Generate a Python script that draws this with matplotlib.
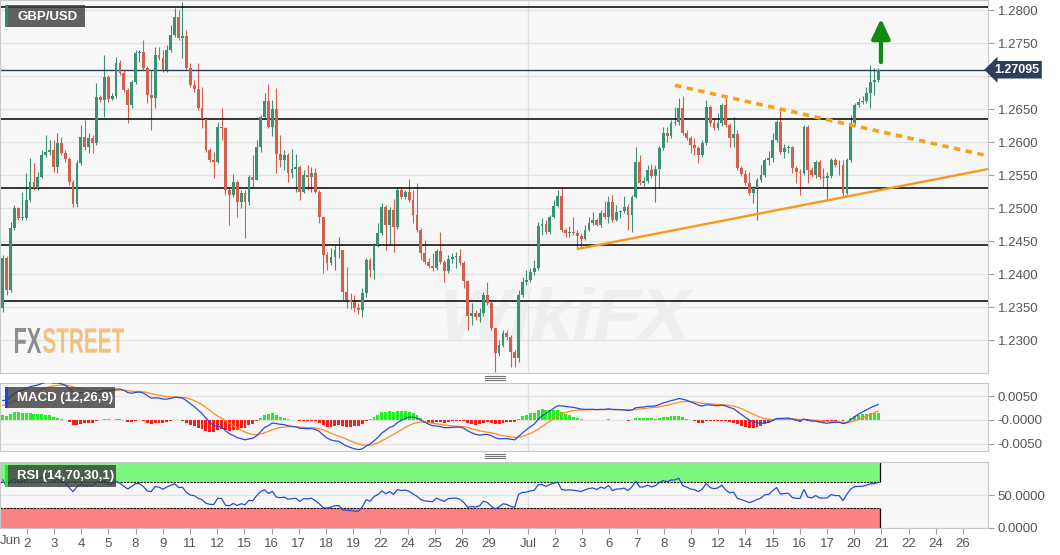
import matplotlib
matplotlib.use("Agg")
import matplotlib.pyplot as plt
import numpy as np
import pandas as pd
from matplotlib.patches import Rectangle, PathPatch
from matplotlib.lines import Line2D
from matplotlib.textpath import TextPath
from matplotlib.font_manager import FontProperties
from matplotlib.transforms import Affine2D, IdentityTransform

plt.rcParams['font.family'] = ['Liberation Sans', 'DejaVu Sans']

# GBP/USD 4h candles, Jun 1 - Jul 21
first_open = 1.2348
closes = [
    1.2424, 1.2376, 1.2470, 1.2500, 1.2485, 1.2485, 1.2512, 1.2539, 1.2530, 1.2547,
    1.2580, 1.2585, 1.2588, 1.2562, 1.2598, 1.2583, 1.2574, 1.2539, 1.2506, 1.2568,
    1.2607, 1.2592, 1.2606, 1.2598, 1.2668, 1.2664, 1.2698, 1.2665, 1.2670, 1.2720,
    1.2704, 1.2679, 1.2656, 1.2691, 1.2735, 1.2736, 1.2712, 1.2671, 1.2667, 1.2732,
    1.2727, 1.2709, 1.2739, 1.2762, 1.2789, 1.2757, 1.2760, 1.2712, 1.2686, 1.2680,
    1.2651, 1.2635, 1.2588, 1.2573, 1.2570, 1.2623, 1.2621, 1.2527, 1.2520, 1.2539,
    1.2509, 1.2523, 1.2509, 1.2547, 1.2542, 1.2592, 1.2638, 1.2662, 1.2623, 1.2650,
    1.2582, 1.2573, 1.2580, 1.2553, 1.2559, 1.2562, 1.2524, 1.2550, 1.2547, 1.2553,
    1.2524, 1.2486, 1.2429, 1.2417, 1.2426, 1.2436, 1.2436, 1.2373, 1.2361, 1.2358,
    1.2348, 1.2345, 1.2371, 1.2421, 1.2406, 1.2444, 1.2462, 1.2501, 1.2474, 1.2497,
    1.2471, 1.2527, 1.2517, 1.2524, 1.2512, 1.2489, 1.2467, 1.2432, 1.2418, 1.2412,
    1.2409, 1.2435, 1.2418, 1.2404, 1.2423, 1.2426, 1.2427, 1.2417, 1.2389, 1.2336,
    1.2341, 1.2335, 1.2341, 1.2368, 1.2356, 1.2318, 1.2280, 1.2292, 1.2311, 1.2305,
    1.2282, 1.2273, 1.2368, 1.2388, 1.2391, 1.2403, 1.2409, 1.2473, 1.2476, 1.2464,
    1.2486, 1.2503, 1.2518, 1.2467, 1.2462, 1.2464, 1.2462, 1.2458, 1.2453, 1.2467,
    1.2477, 1.2482, 1.2474, 1.2492, 1.2486, 1.2509, 1.2482, 1.2494, 1.2495, 1.2501,
    1.2489, 1.2517, 1.2570, 1.2538, 1.2541, 1.2557, 1.2548, 1.2559, 1.2591, 1.2614,
    1.2609, 1.2629, 1.2630, 1.2651, 1.2614, 1.2606, 1.2595, 1.2591, 1.2580, 1.2598,
    1.2653, 1.2629, 1.2621, 1.2629, 1.2656, 1.2626, 1.2606, 1.2612, 1.2561, 1.2551,
    1.2538, 1.2523, 1.2530, 1.2542, 1.2550, 1.2573, 1.2576, 1.2603, 1.2630, 1.2585,
    1.2591, 1.2592, 1.2561, 1.2554, 1.2553, 1.2623, 1.2557, 1.2550, 1.2570, 1.2547,
    1.2545, 1.2548, 1.2573, 1.2565, 1.2565, 1.2523, 1.2573, 1.2629, 1.2656, 1.2661,
    1.2662, 1.2674, 1.2691, 1.2694, 1.27095,
]
highs = [
    1.2429, 1.2427, 1.2479, 1.2504, 1.2501, 1.2524, 1.2553, 1.2576, 1.2568, 1.2554,
    1.2588, 1.2610, 1.2603, 1.2603, 1.2614, 1.2607, 1.2588, 1.2577, 1.2542, 1.2573,
    1.2626, 1.2633, 1.2614, 1.2610, 1.2689, 1.2671, 1.2732, 1.2701, 1.2674, 1.2729,
    1.2724, 1.2709, 1.2682, 1.2694, 1.2739, 1.2739, 1.2754, 1.2715, 1.2709, 1.2744,
    1.2744, 1.2739, 1.2747, 1.2777, 1.2803, 1.2800, 1.2812, 1.2770, 1.2720, 1.2694,
    1.2720, 1.2683, 1.2638, 1.2591, 1.2585, 1.2630, 1.2651, 1.2623, 1.2530, 1.2551,
    1.2542, 1.2527, 1.2527, 1.2550, 1.2580, 1.2603, 1.2641, 1.2674, 1.2688, 1.2664,
    1.2682, 1.2610, 1.2588, 1.2583, 1.2589, 1.2582, 1.2565, 1.2557, 1.2565, 1.2562,
    1.2561, 1.2527, 1.2488, 1.2433, 1.2439, 1.2444, 1.2456, 1.2433, 1.2411, 1.2371,
    1.2368, 1.2356, 1.2379, 1.2424, 1.2424, 1.2447, 1.2477, 1.2507, 1.2504, 1.2501,
    1.2514, 1.2532, 1.2532, 1.2527, 1.2544, 1.2527, 1.2538, 1.2470, 1.2451, 1.2424,
    1.2432, 1.2438, 1.2464, 1.2421, 1.2429, 1.2432, 1.2433, 1.2438, 1.2420, 1.2391,
    1.2356, 1.2345, 1.2348, 1.2373, 1.2388, 1.2361, 1.2318, 1.2300, 1.2315, 1.2315,
    1.2308, 1.2285, 1.2376, 1.2395, 1.2406, 1.2409, 1.2421, 1.2479, 1.2485, 1.2482,
    1.2489, 1.2512, 1.2527, 1.2530, 1.2470, 1.2473, 1.2486, 1.2467, 1.2462, 1.2474,
    1.2486, 1.2494, 1.2485, 1.2497, 1.2510, 1.2518, 1.2520, 1.2504, 1.2497, 1.2518,
    1.2506, 1.2520, 1.2592, 1.2580, 1.2547, 1.2565, 1.2567, 1.2565, 1.2594, 1.2623,
    1.2623, 1.2633, 1.2653, 1.2667, 1.2670, 1.2618, 1.2609, 1.2606, 1.2594, 1.2603,
    1.2664, 1.2656, 1.2636, 1.2644, 1.2659, 1.2671, 1.2629, 1.2638, 1.2618, 1.2564,
    1.2557, 1.2554, 1.2533, 1.2545, 1.2565, 1.2576, 1.2586, 1.2614, 1.2633, 1.2651,
    1.2597, 1.2595, 1.2594, 1.2564, 1.2559, 1.2626, 1.2626, 1.2562, 1.2573, 1.2573,
    1.2561, 1.2554, 1.2576, 1.2576, 1.2573, 1.2573, 1.2576, 1.2641, 1.2659, 1.2667,
    1.2670, 1.2683, 1.2717, 1.2712, 1.2712,
]
lows = [
    1.2342, 1.2368, 1.2373, 1.2467, 1.2482, 1.2482, 1.2482, 1.2509, 1.2527, 1.2527,
    1.2545, 1.2577, 1.2580, 1.2554, 1.2553, 1.2580, 1.2570, 1.2535, 1.2501, 1.2501,
    1.2565, 1.2588, 1.2583, 1.2583, 1.2595, 1.2661, 1.2638, 1.2661, 1.2664, 1.2667,
    1.2701, 1.2676, 1.2629, 1.2651, 1.2688, 1.2721, 1.2709, 1.2659, 1.2618, 1.2651,
    1.2724, 1.2706, 1.2706, 1.2736, 1.2759, 1.2754, 1.2727, 1.2709, 1.2683, 1.2676,
    1.2648, 1.2621, 1.2585, 1.2570, 1.2545, 1.2568, 1.2603, 1.2520, 1.2474, 1.2517,
    1.2486, 1.2500, 1.2455, 1.2504, 1.2532, 1.2542, 1.2585, 1.2636, 1.2621, 1.2609,
    1.2553, 1.2562, 1.2557, 1.2539, 1.2545, 1.2524, 1.2512, 1.2523, 1.2527, 1.2524,
    1.2523, 1.2477, 1.2401, 1.2406, 1.2414, 1.2406, 1.2424, 1.2361, 1.2348, 1.2347,
    1.2342, 1.2339, 1.2335, 1.2365, 1.2395, 1.2392, 1.2441, 1.2459, 1.2436, 1.2444,
    1.2433, 1.2468, 1.2514, 1.2514, 1.2509, 1.2477, 1.2464, 1.2421, 1.2415, 1.2409,
    1.2404, 1.2406, 1.2415, 1.2388, 1.2401, 1.2417, 1.2409, 1.2414, 1.2379, 1.2315,
    1.2323, 1.2330, 1.2327, 1.2336, 1.2353, 1.2315, 1.2251, 1.2276, 1.2289, 1.2300,
    1.2259, 1.2259, 1.2267, 1.2365, 1.2383, 1.2388, 1.2398, 1.2406, 1.2459, 1.2461,
    1.2461, 1.2485, 1.2501, 1.2464, 1.2456, 1.2456, 1.2459, 1.2439, 1.2441, 1.2451,
    1.2465, 1.2474, 1.2473, 1.2471, 1.2483, 1.2477, 1.2479, 1.2480, 1.2485, 1.2492,
    1.2467, 1.2464, 1.2515, 1.2535, 1.2533, 1.2538, 1.2545, 1.2509, 1.2530, 1.2588,
    1.2600, 1.2606, 1.2626, 1.2626, 1.2610, 1.2603, 1.2583, 1.2580, 1.2568, 1.2577,
    1.2595, 1.2624, 1.2618, 1.2618, 1.2624, 1.2623, 1.2592, 1.2592, 1.2557, 1.2548,
    1.2535, 1.2520, 1.2507, 1.2482, 1.2539, 1.2547, 1.2565, 1.2570, 1.2600, 1.2582,
    1.2576, 1.2583, 1.2553, 1.2538, 1.2520, 1.2550, 1.2538, 1.2547, 1.2545, 1.2544,
    1.2532, 1.2512, 1.2545, 1.2562, 1.2550, 1.2517, 1.2520, 1.2570, 1.2626, 1.2653,
    1.2658, 1.2659, 1.2651, 1.2671, 1.2691,
]

levels = [1.2805, 1.2635, 1.2530, 1.2444, 1.2359]
last_price = 1.27095

# trend lines as (candle index, price)
falling_x = [172.0, 252.1]
falling_y = [1.2686, 1.2579]
rising_x = [147.2, 252.1]
rising_y = [1.2438, 1.2559]
arrow_x = 224.7
arrow_y = [1.2721, 1.2787]

price_ticks = [1.2300, 1.2350, 1.2400, 1.2450, 1.2500, 1.2550, 1.2600, 1.2650, 1.2700, 1.2750, 1.2800]
june_days = ['2', '3', '4', '5', '8', '9', '11', '12', '15', '16', '17', '18', '19', '22', '24', '25', '26', '29']
july_days = ['2', '3', '6', '7', '8', '9', '12', '14', '15', '16', '17', '20', '21', '22', '24', '26']

macd_start = 0.0035
signal_start = 0.0028
rsi_gain_start = 0.0013
rsi_loss_start = 0.0007

opens = [first_open] + closes[:-1]
df = pd.DataFrame({'open': opens, 'high': highs, 'low': lows, 'close': closes})
df['high'] = df[['open', 'high', 'close']].max(axis=1)
df['low'] = df[['open', 'low', 'close']].min(axis=1)
n = len(df)
idx = np.arange(n)


def ema(values, span, seed):
    a = 2.0 / (span + 1)
    out = []
    prev = seed
    for v in values:
        prev = prev + a * (v - prev)
        out.append(prev)
    return np.array(out)


ema_fast = ema(df['close'], 12, first_open - 0.0028)
ema_slow = ema(df['close'], 26, first_open - 0.0028 - macd_start)
macd = ema_fast - ema_slow
signal = ema(macd, 9, signal_start)
hist = macd - signal

rsi = []
ag, al = rsi_gain_start, rsi_loss_start
prev = first_open
for c in df['close']:
    d = c - prev
    prev = c
    ag = (ag * 13 + max(d, 0)) / 14
    al = (al * 13 + max(-d, 0)) / 14
    rsi.append(100 - 100 / (1 + ag / al))
rsi = np.array(rsi)

W, H = 1060, 555
fig = plt.figure(figsize=(W / 100, H / 100), dpi=100)
fig.patch.set_facecolor('white')

ax = fig.add_axes([0, 1 - 373 / H, 988 / W, 373 / H])
ax_m = fig.add_axes([0, 1 - 451 / H, 988 / W, 68 / H])
ax_r = fig.add_axes([0, 1 - 528 / H, 988 / W, 66 / H])

xmin, xmax = -0.69, 252.1
jul_x = 134.5
panel_bg = '#f7f7f7'
for a in (ax, ax_m, ax_r):
    a.set_facecolor(panel_bg)
    a.set_xlim(xmin, xmax)
    for s in a.spines.values():
        s.set_color('#c8c8c8')
    a.yaxis.tick_right()
    a.tick_params(axis='y', length=4, color='#a0a0a0', labelcolor='#555555', labelsize=9.5, pad=3)
    a.yaxis.grid(True, color='#e3e3e3', lw=1)
    a.set_axisbelow(True)
    a.axvline(jul_x, color='#e2e2e2', lw=1, zorder=0.6)
ax.tick_params(axis='x', bottom=False, labelbottom=False)
ax_m.tick_params(axis='x', bottom=False, labelbottom=False)

# --- main price panel
green, red = '#3a9173', '#d2604c'
up = df['close'] >= df['open']
cols = np.where(up, green, red)
body_lo = np.minimum(df['open'], df['close'])
body_h = np.maximum((df['close'] - df['open']).abs(), 0.00008)
ax.vlines(idx, df['low'], df['high'], colors=cols, lw=0.8, zorder=2)
ax.bar(idx, body_h, bottom=body_lo, width=0.72, color=cols, edgecolor='none', zorder=3)

for lv in levels:
    ax.axhline(lv, color='black', lw=1.1, zorder=2.5)
ax.axhline(last_price, color='#2c3e5c', lw=1, zorder=2.5)

ax.plot(falling_x, falling_y, color='#f5a21b', lw=2.6, ls=(0, (1.8, 1.5)), zorder=4, solid_capstyle='butt')
ax.plot(rising_x, rising_y, color='#f59a1e', lw=1.7, zorder=4)
ax.annotate('', xy=(arrow_x, arrow_y[1]), xytext=(arrow_x, arrow_y[0]),
            arrowprops=dict(arrowstyle='-|>,head_width=0.28,head_length=0.6', color='#108a10',
                            lw=3, shrinkA=0, shrinkB=0, mutation_scale=20), zorder=5)

ax.set_ylim(1.2250, 1.28152)
ax.set_yticks(price_ticks)
# the 1.2700 label sits under the last-price tag
ax.set_yticklabels(['' if abs(p - 1.27) < 1e-9 else '%.4f' % p for p in price_ticks])
ax.text(1.006, last_price, '1.27095', transform=ax.get_yaxis_transform(), ha='left', va='center',
        color='white', fontsize=9, fontweight='bold', clip_on=False, zorder=10,
        bbox=dict(boxstyle='larrow,pad=0.22', fc='#2c3e5c', ec='none'))


def logo(axis, text, x0, y0, w, h, color, slant=0.0, z=0.7):
    tp = TextPath((0, 0), text, size=50,
                  prop=FontProperties(family=['Liberation Sans Narrow', 'Liberation Sans'], weight='bold'))
    bb = tp.get_extents()
    tr = (Affine2D().translate(-bb.x0, -bb.y0).scale(w / bb.width, h / bb.height)
          .skew_deg(slant, 0).translate(x0, H - y0 - h))
    axis.add_patch(PathPatch(tr.transform_path(tp), transform=IdentityTransform(),
                             fc=color, ec='none', zorder=z))


logo(ax, 'WikiFX', 435, 287, 250, 52, '#eeeeee', slant=12)
logo(ax, 'FX', 15, 328, 26, 25, '#8e8e8e', z=6)
logo(ax, 'STREET', 43, 328, 81, 25, '#f1c27d', z=6)
ax.set_xlim(xmin, xmax)
ax.set_ylim(1.2250, 1.28152)

# --- MACD panel
hcols = np.where(hist >= 0, '#22ee22', '#ff1a1a')
ax_m.bar(idx, hist, width=0.75, color=hcols, edgecolor='none', zorder=2)
ax_m.plot(idx, signal, color='#ff8a1e', lw=0.9, zorder=3)
ax_m.plot(idx, macd, color='#2a4bd7', lw=0.9, zorder=3)
ax_m.set_ylim(-0.00646, 0.00771)
ax_m.set_yticks([0.005, 0.0, -0.005])
ax_m.set_yticklabels(['0.0050', '-0.0000', '-0.0050'])

# --- RSI panel
x_end = n - 1 + 0.4
ax_r.fill_between([xmin, x_end], 70, 100, color='#7ef57e', lw=0, zorder=1)
ax_r.fill_between([xmin, x_end], 0, 30, color='#f98282', lw=0, zorder=1)
ax_r.hlines([70, 30], xmin, x_end, colors='black', lw=0.8, linestyles=(0, (2, 1)), zorder=2)
ax_r.vlines(x_end, 70, 100, colors='black', lw=0.9, zorder=2)
ax_r.vlines(x_end, 0, 30, colors='black', lw=0.9, zorder=2)
ax_r.plot(idx, rsi, color='#2a4bd7', lw=0.9, zorder=3)
ax_r.set_ylim(0, 100)
ax_r.set_yticks([50, 0])
ax_r.set_yticklabels(['50.0000', '0.0000'])

tick_pos = [6.14 + 6.96 * k for k in range(len(june_days))] + [jul_x] + \
           [141.3 + 6.96 * k for k in range(len(july_days))]
ax_r.set_xticks(tick_pos)
ax_r.set_xticklabels(june_days + ['Jul'] + july_days)
ax_r.tick_params(axis='x', length=4, color='#a0a0a0', labelcolor='#555555', labelsize=9.5, pad=3)
ax_r.text(0.0, -13 / 66, 'Jun', transform=ax_r.transAxes, ha='left', va='center',
          color='#555555', fontsize=9.5)

# --- label boxes


def label_box(x0, y0, w, h, bar, text):
    fig.add_artist(Rectangle((x0 / W, 1 - (y0 + h) / H), w / W, h / H, transform=fig.transFigure,
                             fc='#3c3c3c', alpha=0.8, ec='none', zorder=20))
    fig.add_artist(Rectangle((x0 / W, 1 - (y0 + h) / H), 3 / W, h / H, transform=fig.transFigure,
                             fc=bar, ec='none', zorder=21))
    fig.text((x0 + 12) / W, 1 - (y0 + h / 2 + 0.5) / H, text, color='white', fontsize=9.5,
             fontweight='bold', va='center', ha='left', zorder=22)


label_box(5, 5, 80, 22, '#2e8b6e', 'GBP/USD')
label_box(5, 387, 110, 21, '#1f3fff', 'MACD (12,26,9)')
label_box(5, 465, 111, 22, '#22ee22', 'RSI (14,70,30,1)')

# panel resize handles
for yy in (376, 378, 380, 454, 456, 458):
    fig.add_artist(Line2D([485 / W, 505 / W], [1 - yy / H, 1 - yy / H], transform=fig.transFigure,
                          color='#777777', lw=0.8))

fig.savefig('out.png', dpi=100, facecolor='white')
